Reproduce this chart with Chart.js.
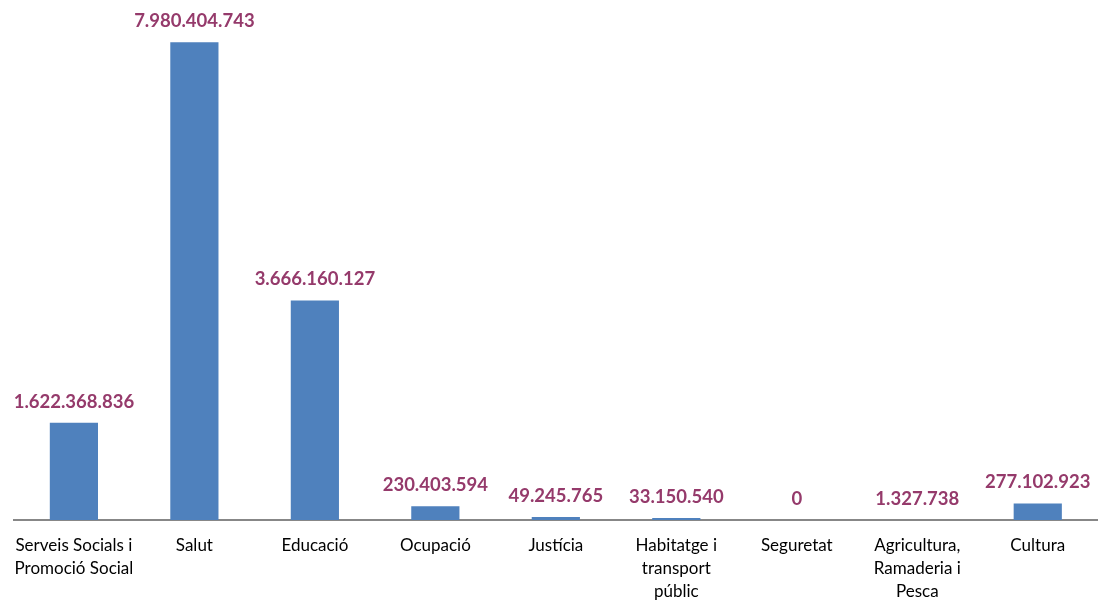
<!DOCTYPE html>
<html>
<head>
<meta charset="utf-8">
<script src="https://cdn.jsdelivr.net/npm/chart.js@4"></script>
<style>
  html, body { margin: 0; padding: 0; background: #fff; }
  #wrap { width: 1098px; height: 601px; }
</style>
</head>
<body>
<div id="wrap"><canvas id="myChart"></canvas></div>
<script>
const categories = [
  ["Serveis Socials i", "Promoció Social"],
  "Salut",
  "Educació",
  "Ocupació",
  "Justícia",
  ["Habitatge i", "transport", "públic"],
  "Seguretat",
  ["Agricultura,", "Ramaderia i", "Pesca"],
  "Cultura"
];
const values = [1622368836, 7980404743, 3666160127, 230403594, 49245765, 33150540, 0, 1327738, 277102923];

const fontFam = "Lato, 'Open Sans', sans-serif";

function formatDots(n) {
  return String(n).replace(/\B(?=(\d{3})+(?!\d))/g, ".");
}

// draws the numbers above each bar
const valueLabels = {
  id: 'valueLabels',
  afterDatasetsDraw(chart) {
    const ctx = chart.ctx;
    const meta = chart.getDatasetMeta(0);
    ctx.save();
    ctx.fillStyle = '#953A6B';
    ctx.font = "bold 18.5px " + fontFam;
    ctx.textAlign = 'center';
    ctx.textBaseline = 'bottom';
    meta.data.forEach((bar, i) => {
      ctx.fillText(formatDots(values[i]), bar.x, bar.y - 12);
    });
    ctx.restore();
  }
};

const ctx = document.getElementById('myChart').getContext('2d');
const myChart = new Chart(ctx, {
  type: 'bar',
  data: {
    labels: categories,
    datasets: [{
      data: values,
      backgroundColor: '#4F81BD',
      barPercentage: 0.4,
      categoryPercentage: 1
    }]
  },
  options: {
    responsive: true,
    maintainAspectRatio: false,
    animation: false,
    layout: { padding: { left: 9, top: 41, right: 0, bottom: 0 } },
    plugins: {
      legend: { display: false },
      tooltip: { enabled: false }
    },
    scales: {
      x: {
        grid: { display: false, drawTicks: false },
        border: { color: '#878787', width: 2 },
        ticks: {
          color: '#000',
          font: { family: fontFam, size: 17, lineHeight: 1.35 },
          maxRotation: 0,
          autoSkip: false,
          padding: 14
        },
        afterFit(scale) { scale.height = 81; }
      },
      y: {
        display: false,
        min: 0,
        max: 8000000000
      }
    }
  },
  plugins: [valueLabels]
});
</script>
</body>
</html>
